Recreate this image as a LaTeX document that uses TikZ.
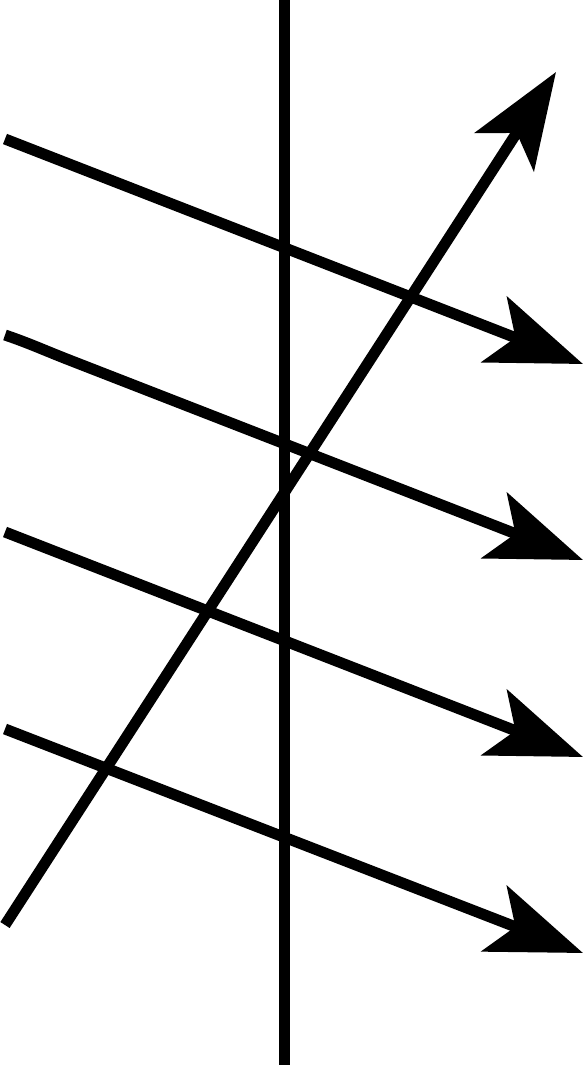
\documentclass[tikz,border=0pt]{standalone}
\usetikzlibrary{arrows.meta}
\begin{document}
\begin{tikzpicture}[x=0.02cm,y=-0.02cm]

        \tikzstyle{axis}=[line width=0.22cm]
        \tikzstyle{ray}=[line width=0.22cm,-{Stealth[length=1.9cm,width=1.4cm,inset=0.45cm]}]
        \useasboundingbox (0,0) rectangle (584,1065);

        %% vertical line
        \coordinate (top) at (284,0);
        \coordinate (bottom) at (284,1065);
        \draw[axis] (top) -- (bottom);

        %% parallel rays
        \coordinate (s1) at (5,139);   \coordinate (t1) at (583,364);
        \coordinate (s2) at (5,335);   \coordinate (t2) at (583,560);
        \coordinate (s3) at (5,532);   \coordinate (t3) at (583,757);
        \coordinate (s4) at (5,729);   \coordinate (t4) at (583,953);
        \coordinate (b2) at (70,360.3);

        \draw[ray] (s2) .. controls (30,343.5) and (45,350.6) .. (b2) -- (t2);
        \draw[ray] (s1) -- (t1);
        \draw[ray] (s3) -- (t3);
        \draw[ray] (s4) -- (t4);

        %% slanted ray
        \coordinate (d0) at (5,925);
        \coordinate (d1) at (556,72);
        \draw[ray] (d0) -- (d1);

\end{tikzpicture}
\end{document}
